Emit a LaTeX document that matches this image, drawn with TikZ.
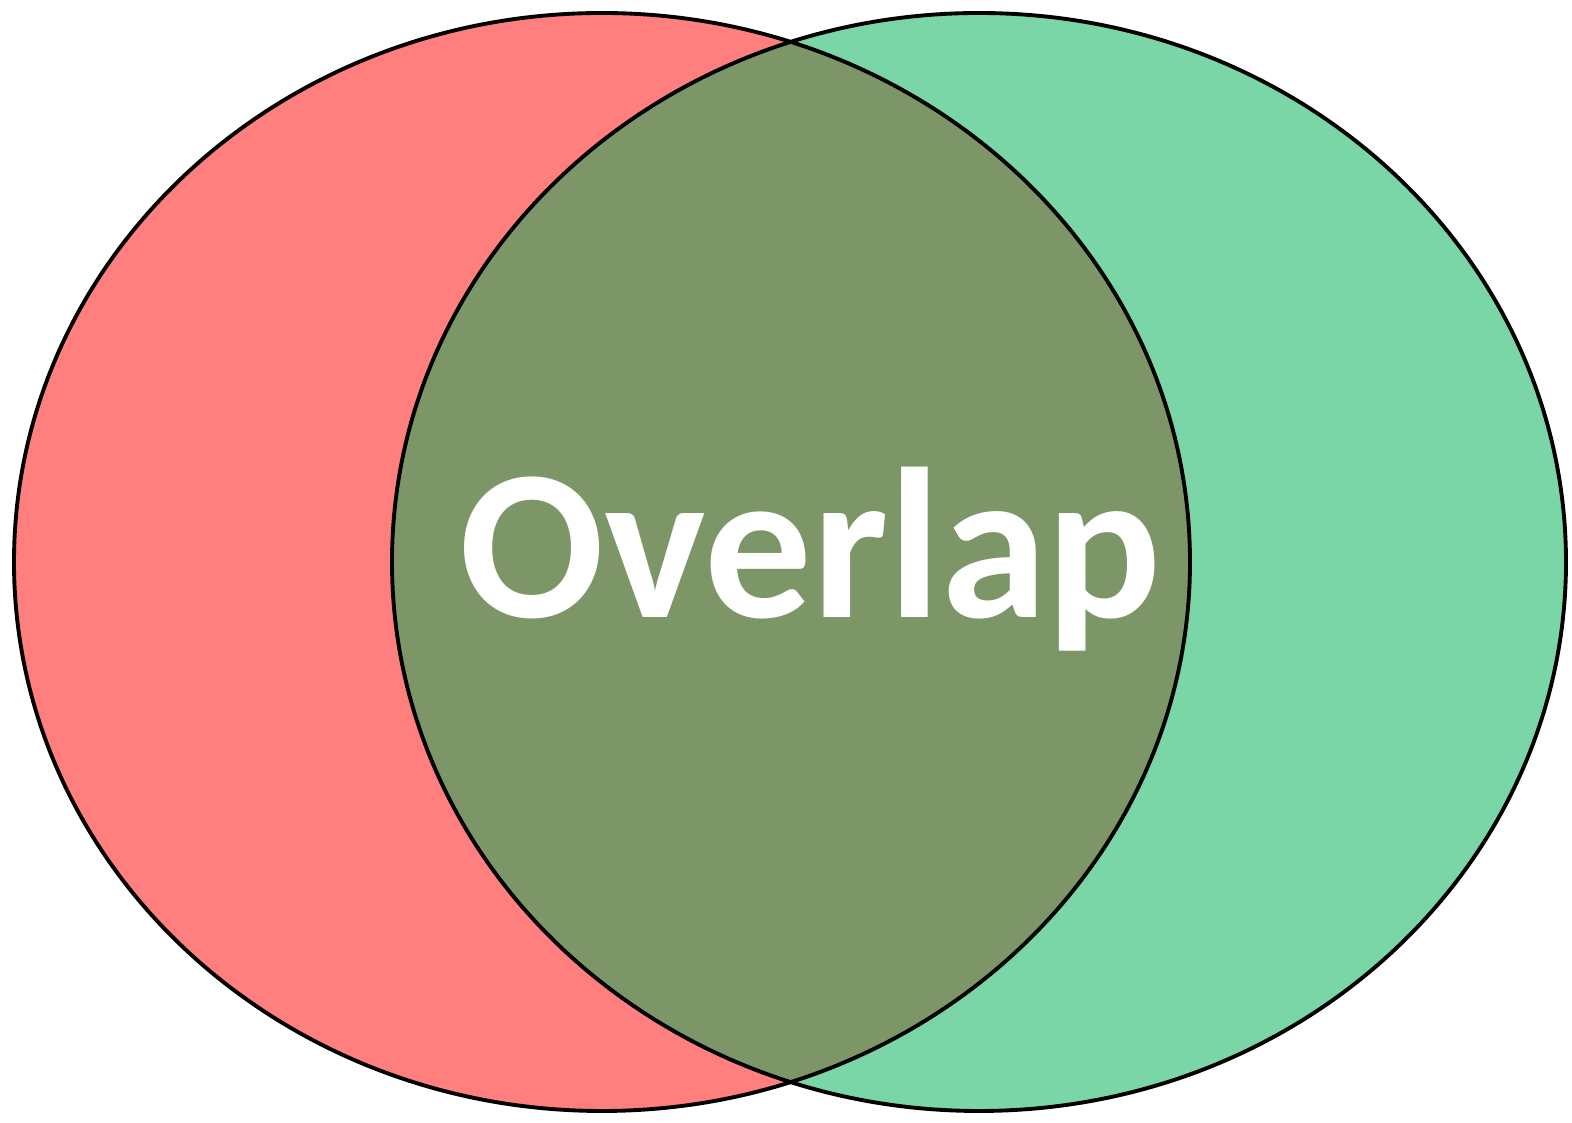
\documentclass[tikz,border=0pt]{standalone}
\usepackage{fontspec}
\setmainfont{Carlito}
\usepackage{tikz}

\begin{document}
\begin{tikzpicture}[
    setline/.style={draw=black, line width=1.1pt},
]

\definecolor{setLeft}{RGB}{255,127,126}    % red
\definecolor{setRight}{RGB}{122,214,166}   % green
\definecolor{setBoth}{RGB}{125,150,104}    % overlap

\useasboundingbox[fill=white] (0, 0) rectangle (15.72, 11.23);

% ============================================================
% SETS
% ============================================================
\fill[setLeft]  (6.02, 5.61) ellipse [x radius=5.88, y radius=5.49];
\fill[setRight] (9.79, 5.61) ellipse [x radius=5.87, y radius=5.49];

% overlap region
\begin{scope}
    \clip (6.02, 5.61) ellipse [x radius=5.88, y radius=5.49];
    \fill[setBoth] (9.79, 5.61) ellipse [x radius=5.87, y radius=5.49];
\end{scope}

\draw[setline] (6.02, 5.61) ellipse [x radius=5.88, y radius=5.49];
\draw[setline] (9.79, 5.61) ellipse [x radius=5.87, y radius=5.49];

% ============================================================
% LABEL
% ============================================================
\node[font=\fontsize{61}{73}\selectfont\bfseries, text=white] (overlap)
    at (8.11, 5.64) {Overlap};

\end{tikzpicture}
\end{document}
